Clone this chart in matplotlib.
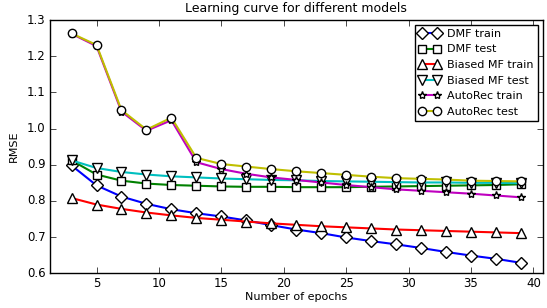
import numpy as np
import matplotlib
matplotlib.use('Agg')
from matplotlib import pyplot as plt

epochs = [3, 5, 7, 9, 11, 13, 15, 17, 19, 21, 23, 25, 27, 29, 31, 33, 35, 37, 39]

dmf_train = [0.898, 0.843, 0.812, 0.792, 0.777, 0.766, 0.757, 0.746, 0.733, 0.721,
             0.711, 0.699, 0.689, 0.680, 0.670, 0.659, 0.649, 0.640, 0.629]
dmf_test = [0.912, 0.873, 0.856, 0.848, 0.844, 0.842, 0.840, 0.839, 0.839, 0.838,
            0.838, 0.838, 0.839, 0.840, 0.841, 0.842, 0.843, 0.844, 0.846]
bmf_train = [0.808, 0.790, 0.778, 0.768, 0.760, 0.753, 0.748, 0.743, 0.738, 0.734,
             0.730, 0.727, 0.724, 0.721, 0.719, 0.717, 0.715, 0.713, 0.711]
bmf_test = [0.912, 0.891, 0.880, 0.873, 0.868, 0.865, 0.862, 0.860, 0.858, 0.857,
            0.855, 0.854, 0.853, 0.852, 0.851, 0.851, 0.850, 0.850, 0.849]
ar_train = [1.262, 1.228, 1.047, 0.994, 1.023, 0.907, 0.888, 0.875, 0.865, 0.858,
            0.851, 0.844, 0.838, 0.832, 0.828, 0.824, 0.820, 0.815, 0.810]
ar_test = [1.263, 1.231, 1.051, 0.997, 1.030, 0.919, 0.902, 0.895, 0.888, 0.882,
           0.877, 0.872, 0.867, 0.863, 0.861, 0.859, 0.856, 0.855, 0.854]

series = [
    (dmf_train, 'b', 'D', 'DMF train'),
    (dmf_test, 'g', 's', 'DMF test'),
    (bmf_train, 'r', '^', 'Biased MF train'),
    (bmf_test, 'c', 'v', 'Biased MF test'),
    (ar_train, 'm', '*', 'AutoRec train'),
    (ar_test, 'y', 'o', 'AutoRec test'),
]

plt.style.use('classic')
fig = plt.figure(figsize=(5.47, 3.08), dpi=100)
ax = fig.add_axes([0.0909, 0.1127, 0.9012, 0.8223])

for vals, col, mk, lab in series:
    ms = {'D': 6.5, 's': 5.5, 'o': 6, '^': 6.5, 'v': 6.5, '*': 6}[mk]
    ax.plot(epochs, vals, color=col, lw=1.5, marker=mk, markersize=ms,
            mfc='w', mec='k', mew=1.0, label=lab)

ax.set_xlim(1.25, 40.75)
ax.set_ylim(0.6, 1.3)
ax.set_xticks([5, 10, 15, 20, 25, 30, 35, 40])
ax.set_yticks(np.arange(0.6, 1.31, 0.1))
ax.tick_params(labelsize=8.5, pad=3)
ax.set_xlabel('Number of epochs', fontsize=8, labelpad=1)
ax.set_ylabel('RMSE', fontsize=8, labelpad=6)
ax.set_title('Learning curve for different models', fontsize=9, y=1.005)
ax.legend(loc='upper right', fontsize=8, numpoints=2, handlelength=2.0,
          labelspacing=0.5, borderpad=0.35, handletextpad=0.6,
          borderaxespad=0.45)

fig.savefig('out.png', dpi=100)
